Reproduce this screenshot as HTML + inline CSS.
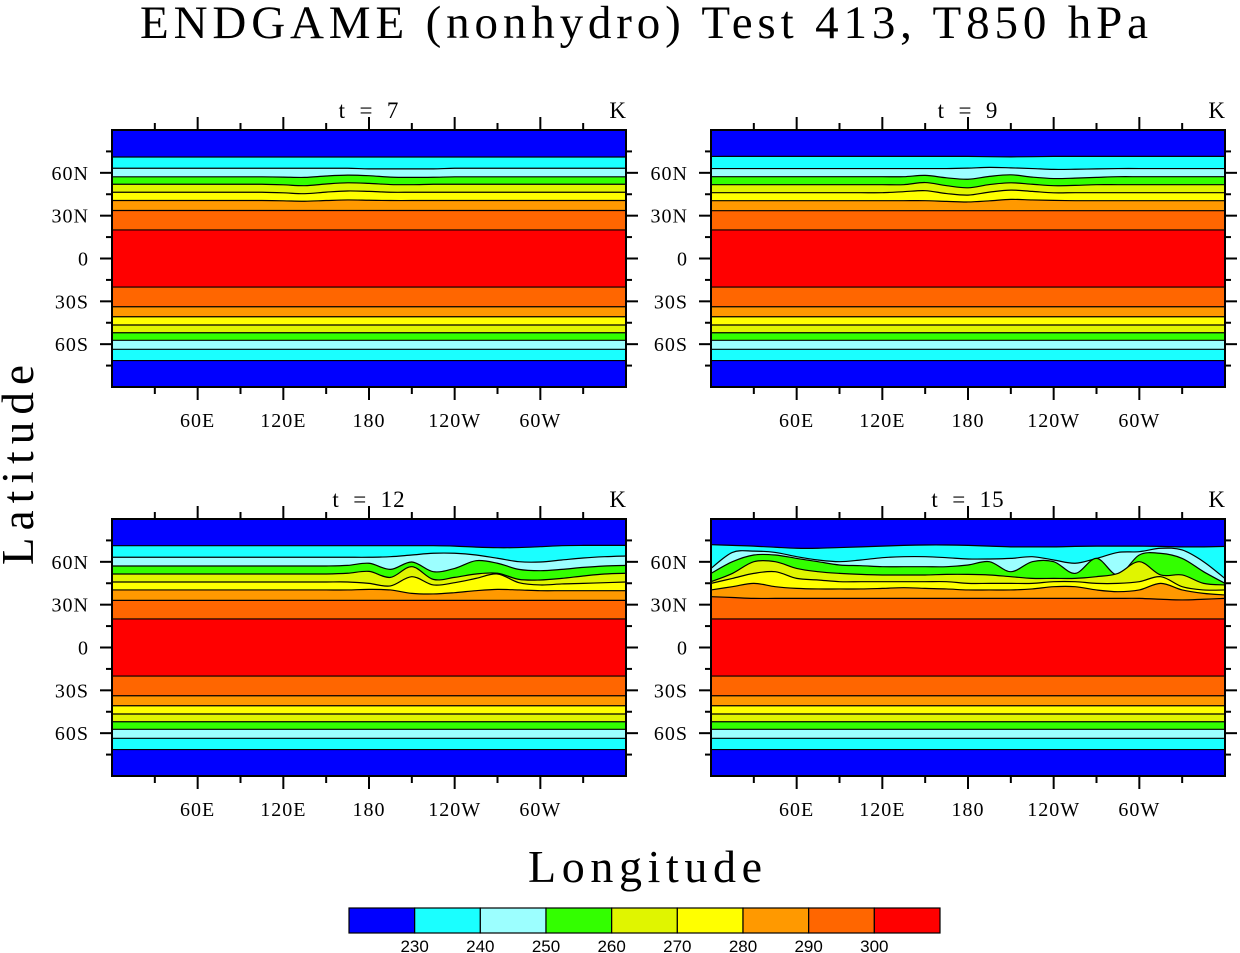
<!DOCTYPE html>
<html><head><meta charset="utf-8">
<style>html,body{margin:0;padding:0;background:#fff;}svg{display:block;}</style>
</head><body>
<svg id="chart" width="1240" height="953" viewBox="0 0 1240 953" xmlns="http://www.w3.org/2000/svg">
<text x="644" y="38" text-anchor="middle" font-family="Liberation Serif, serif" font-size="47" textLength="1008" lengthAdjust="spacing" fill="#000">ENDGAME (nonhydro) Test 413, T850 hPa</text>
<text transform="translate(33,465) rotate(-90)" text-anchor="middle" font-family="Liberation Serif, serif" font-size="45" textLength="200" lengthAdjust="spacing" fill="#000">Latitude</text>
<text x="645" y="882" text-anchor="middle" font-family="Liberation Serif, serif" font-size="46" textLength="234" lengthAdjust="spacing" fill="#000">Longitude</text>
<g id="panels"></g>
<g id="colorbar"></g>
</svg>
<script>
// ---- data ----
const levels = [230, 240, 250, 260, 270, 280, 290, 300];
const bandColors = ["#0000ff","#1affff","#9cffff","#33ff00","#e0f500","#ffff00","#ff9900","#ff6600","#ff0000"];
const sampleLons = [0,15,30,45,60,75,90,105,120,135,150,165,180,195,210,225,240,255,270,285,300,315,330,345,360];
const southLats = [-71.5, -63.6, -57.3, -52, -46.6, -40.8, -33.8, -20];
const panelTitles = ["t = 7", "t = 9", "t = 12", "t = 15"];
const xTickLabels = ["60E","120E","180","120W","60W"];
const xTickLons = [60,120,180,240,300];
const yTickLabels = ["60N","30N","0","30S","60S"];
const yTickLats = [60,30,0,-30,-60];

// northern contour latitudes, per level, sampled at sampleLons
const north_t7 = [
 [71.1,71.1,71.1,71.1,71.1,71.1,71.1,71.1,71.1,71.1,71.1,71.1,71.1,71.1,71.1,71.1,71.1,71.1,71.1,71.1,71.1,71.1,71.1,71.1,71.1],
 [63.2,63.2,63.2,63.2,63.2,63.2,63.2,63.2,63.2,63.2,63.2,63.2,62.8,62.8,62.8,62.8,63.2,63.2,63.2,63.2,63.2,63.2,63.2,63.2,63.2],
 [57.2,57.2,57.2,57.2,57.2,57.2,57.2,57.2,57,56.8,57.8,58.4,58,57,56.8,56.9,57.2,57.2,57.2,57.2,57.2,57.2,57.2,57.2,57.2],
 [52,52,52,52,52,52,52,52,51.6,51,52.2,53,52.6,51.8,51.7,52,52,52,52,52,52,52,52,52,52],
 [46.4,46.4,46.4,46.4,46.4,46.4,46.4,46.4,46,45.4,46.5,47.3,47,46.4,46.4,46.4,46.4,46.4,46.4,46.4,46.4,46.4,46.4,46.4,46.4],
 [40.6,40.6,40.6,40.6,40.6,40.6,40.6,40.6,40.4,40.1,40.6,41,40.8,40.6,40.6,40.6,40.6,40.6,40.6,40.6,40.6,40.6,40.6,40.6,40.6],
 [33.6,33.6,33.6,33.6,33.6,33.6,33.6,33.6,33.6,33.6,33.6,33.6,33.6,33.6,33.6,33.6,33.6,33.6,33.6,33.6,33.6,33.6,33.6,33.6,33.6],
 [20,20,20,20,20,20,20,20,20,20,20,20,20,20,20,20,20,20,20,20,20,20,20,20,20]
];
const north_t9 = [
 [71.5,71.5,71.5,71.5,71.5,71.5,71.5,71.5,71.5,71.5,71.5,71.5,71.5,71.3,71.2,71.3,71.5,71.5,71.5,71.5,71.5,71.5,71.5,71.5,71.5],
 [63,63,63,63,63,63,63,63,63,63,63,63,63.3,63.8,63.5,63,62.4,62.5,62.8,63,63,63,63,63,63],
 [57.3,57.3,57.3,57.3,57.3,57.3,57.3,57.3,57.3,57.3,58.2,56.5,55.5,57.5,58.6,57,56,56.3,56.8,57.3,57.3,57.3,57.3,57.3,57.3],
 [51.7,51.7,51.7,51.7,51.7,51.7,51.7,51.7,51.7,51.7,53.2,51,49.5,51.8,53,52,51,51.2,51.7,51.7,51.7,51.7,51.7,51.7,51.7],
 [46.1,46.1,46.1,46.1,46.1,46.1,46.1,46.1,46.1,46.8,47.5,45.5,44.4,46.5,47.9,47,46,46.1,46.1,46.1,46.1,46.1,46.1,46.1,46.1],
 [40.5,40.5,40.5,40.5,40.5,40.5,40.5,40.5,40.5,40.5,40.5,40,39.6,40.4,41.4,41,40.7,40.5,40.5,40.5,40.5,40.5,40.5,40.5,40.5],
 [33.5,33.5,33.5,33.5,33.5,33.5,33.5,33.5,33.5,33.5,33.5,33.5,33.5,33.5,33.5,33.5,33.5,33.5,33.5,33.5,33.5,33.5,33.5,33.5,33.5],
 [20,20,20,20,20,20,20,20,20,20,20,20,20,20,20,20,20,20,20,20,20,20,20,20,20]
];
const north_t12 = [
 [71.3,71.3,71.3,71.3,71.3,71.3,71.3,71.3,71.3,71.3,71.3,71.3,71.3,71.3,71.3,71.3,71,70.3,69.9,70,70.6,71.3,71.5,71.5,71.5],
 [63.2,63.2,63.2,63.2,63.2,63.2,63.2,63.2,63.2,63.2,63.2,63.2,63.2,63.6,64.8,66,66,64.8,62.5,60.1,59.9,61.3,62.7,63.6,64.1],
 [57.1,57.1,57.1,57.1,57.1,57.1,57.1,57.1,57.1,57.1,57.1,57.5,59,54.7,59.9,53.1,55.4,60.8,59,54.7,53.8,54.7,56.1,57.1,57.5],
 [51.5,51.5,51.5,51.5,51.5,51.5,51.5,51.5,51.5,51.5,51.5,52,53.3,49.1,56.6,47.7,49.1,51.5,52,47.7,47.3,48.4,50.1,51.5,52],
 [45.9,45.9,45.9,45.9,45.9,45.9,45.9,45.9,45.9,45.9,45.9,45.9,44.9,43.1,49.6,43.8,45.4,48.4,51.5,45.4,43.8,44.5,44.9,45.4,45.9],
 [40.3,40.3,40.3,40.3,40.3,40.3,40.3,40.3,40.3,40.3,40.3,40.3,40.7,40.3,37.9,37.5,38.4,39.8,40.7,40.3,39.8,39.8,39.8,39.8,39.8],
 [33,33,33,33,33,33,33,33,33,33,33,33,33,33,33,33,33,33,33,33,33,33,33,33,33],
 [20,20,20,20,20,20,20,20,20,20,20,20,20,20,20,20,20,20,20,20,20,20,20,20,20]
];
const north_t15 = [
 [72,71.5,71,70.2,69.5,69.5,70,70.5,71,71.5,71.8,71.8,71.5,71,70.5,70.5,70.5,70.8,71,71,71,70.8,70.5,70.5,70.8],
 [55.4,66.6,67.5,66.6,63.6,61.3,60.1,61.3,62.9,63.6,63.6,62.9,62,62,62.4,63.6,61.3,59,62.4,66.6,67.1,69.5,68.3,60.1,48.3],
 [51.9,60.1,64.8,64.8,62.4,60.1,57.8,57.3,56.6,56.6,56.6,56.6,57.8,60.1,53.1,60.1,60.1,51.9,62.4,50.8,64.8,65.9,62.4,53.1,44.9],
 [46.1,51.9,60.1,60.1,55.4,53.1,51.9,51.2,50.8,50.8,50.8,51.2,51.2,50.8,49.6,48.4,48.4,48.4,49.6,51.9,60.1,50.8,50.8,44.9,43.8],
 [44.9,48.4,51.9,53.1,48.4,47.3,46.1,46.1,46.1,46.1,46.1,46.1,44.9,44.9,44.9,44.9,46.1,46.1,44.9,44.9,46.1,49.6,42.6,40.3,40.3],
 [40.3,42.6,44.9,42.6,41.4,41,41,41,41.4,41.9,41.4,41,40.3,40.3,40.3,41,42.6,42.6,40.3,39.1,40.3,44.9,40.3,37.9,36.8],
 [35.6,35,34.4,34.4,34.4,34.4,34.4,34.4,34.4,34.4,34.4,34.4,34.4,34.4,34.4,34.4,34.4,34.4,34.4,34.4,34.4,33.8,33.3,33.8,34.4],
 [20,20,20,20,20,20,20,20,20,20,20,20,20,20,20,20,20,20,20,20,20,20,20,20,20]
];
const panelNorth = [north_t7, north_t9, north_t12, north_t15];

// ---- layout ----
const panelOrigins = [[112,130],[711,130],[112,519],[711,519]];
const PW = 514, PH = 257;
const NS = "http://www.w3.org/2000/svg";
function mk(tag, attrs, parent){const e=document.createElementNS(NS,tag);for(const k in attrs)e.setAttribute(k,attrs[k]);parent.appendChild(e);return e;}

function smoothPath(pts){
  let d = "";
  for(let i=0;i<pts.length-1;i++){
    const p0=pts[Math.max(0,i-1)], p1=pts[i], p2=pts[i+1], p3=pts[Math.min(pts.length-1,i+2)];
    const c1x=p1[0]+(p2[0]-p0[0])/6, c1y=p1[1]+(p2[1]-p0[1])/6;
    const c2x=p2[0]-(p3[0]-p1[0])/6, c2y=p2[1]-(p3[1]-p1[1])/6;
    d += ` C${c1x.toFixed(2)},${c1y.toFixed(2)} ${c2x.toFixed(2)},${c2y.toFixed(2)} ${p2[0].toFixed(2)},${p2[1].toFixed(2)}`;
  }
  return d;
}

const panelsG = document.getElementById('panels');
panelOrigins.forEach((o, pi) => {
  const x0=o[0], y0=o[1];
  const xs = lon => x0 + lon/360*PW;
  const ys = lat => y0 + (90-lat)/180*PH;
  const g = mk('g', {}, panelsG);
  
  
  const clipId = 'clip'+pi;
  const cp = mk('clipPath', {id:clipId}, g);
  mk('rect', {x:x0,y:y0,width:PW,height:PH}, cp);
  const inner = mk('g', {'clip-path':`url(#${clipId})`}, g);
  const bg = mk('rect', {x:x0,y:y0,width:PW,height:PH,fill:bandColors[0]}, inner);
  
  
  const north = panelNorth[pi];
  levels.forEach((lv, li) => {
    const npts = sampleLons.map((ln, k) => [xs(ln), ys(north[li][k])]);
    const sy = ys(southLats[li]);
    const d = `M${npts[0][0]},${npts[0][1]}` + smoothPath(npts) + ` L${xs(360)},${sy} L${xs(0)},${sy} Z`;
    const band = mk('path', {d:d, fill:bandColors[li+1]}, inner);
    
    
    const ln1 = mk('path', {d:`M${npts[0][0]},${npts[0][1]}`+smoothPath(npts), fill:'none', stroke:'#000', 'stroke-width':1.2}, inner);
    
    
    const ln2 = mk('line', {x1:xs(0),x2:xs(360),y1:sy,y2:sy,stroke:'#000','stroke-width':1.2}, inner);
    
    
  });
  const frame = mk('rect', {x:x0,y:y0,width:PW,height:PH,fill:'none',stroke:'#000','stroke-width':2}, g);
  
  
  const tk = mk('g', {stroke:'#000','stroke-width':2}, g);
  
  
  for(let ln=30; ln<360; ln+=30){
    const maj = ln%60===0;
    const L = maj?13:7;
    mk('line',{x1:xs(ln),x2:xs(ln),y1:y0,y2:y0-L},tk);
    mk('line',{x1:xs(ln),x2:xs(ln),y1:y0+PH,y2:y0+PH+L},tk);
  }
  for(let lt=-75; lt<=75; lt+=15){
    const maj = lt%30===0;
    const L = maj?12:6;
    mk('line',{x1:x0,x2:x0-L,y1:ys(lt),y2:ys(lt)},tk);
    mk('line',{x1:x0+PW,x2:x0+PW+L,y1:ys(lt),y2:ys(lt)},tk);
  }
  xTickLabels.forEach((lab, k) => {
    const t = mk('text', {x:xs(xTickLons[k]), y:y0+PH+40, 'text-anchor':'middle','font-family':'Liberation Serif, serif','font-size':20,'letter-spacing':'1'}, g);
    t.textContent = lab;
    
    
  });
  yTickLabels.forEach((lab, k) => {
    const t = mk('text', {x:x0-23, y:ys(yTickLats[k])+7, 'text-anchor':'end','font-family':'Liberation Serif, serif','font-size':20,'letter-spacing':'1'}, g);
    t.textContent = lab;
    
    
  });
  const tt = mk('text', {x:x0+257, y:y0-12, 'text-anchor':'middle','font-family':'Liberation Serif, serif','font-size':23,'letter-spacing':'1'}, g);
  tt.textContent = panelTitles[pi].replace(/ /g,'\u00a0 ');
  
  
  const ku = mk('text', {x:x0+PW, y:y0-12, 'text-anchor':'end','font-family':'Liberation Serif, serif','font-size':23}, g);
  ku.textContent = 'K';
  
  
});

// colorbar
const cb = document.getElementById('colorbar');
const cbX = 349, cbW = 591, cbY = 908, cbH = 25;
const bw = cbW / bandColors.length;
bandColors.forEach((c, i) => {
  const r = mk('rect', {x:cbX+i*bw, y:cbY, width:bw, height:cbH, fill:c, stroke:'#000', 'stroke-width':1.2}, cb);
  
  
});
levels.forEach((lv, i) => {
  const t = mk('text', {x:cbX+(i+1)*bw, y:952, 'text-anchor':'middle','font-family':'Liberation Sans, sans-serif','font-size':17}, cb);
  t.textContent = lv;
  
  
});
</script>
</body></html>
